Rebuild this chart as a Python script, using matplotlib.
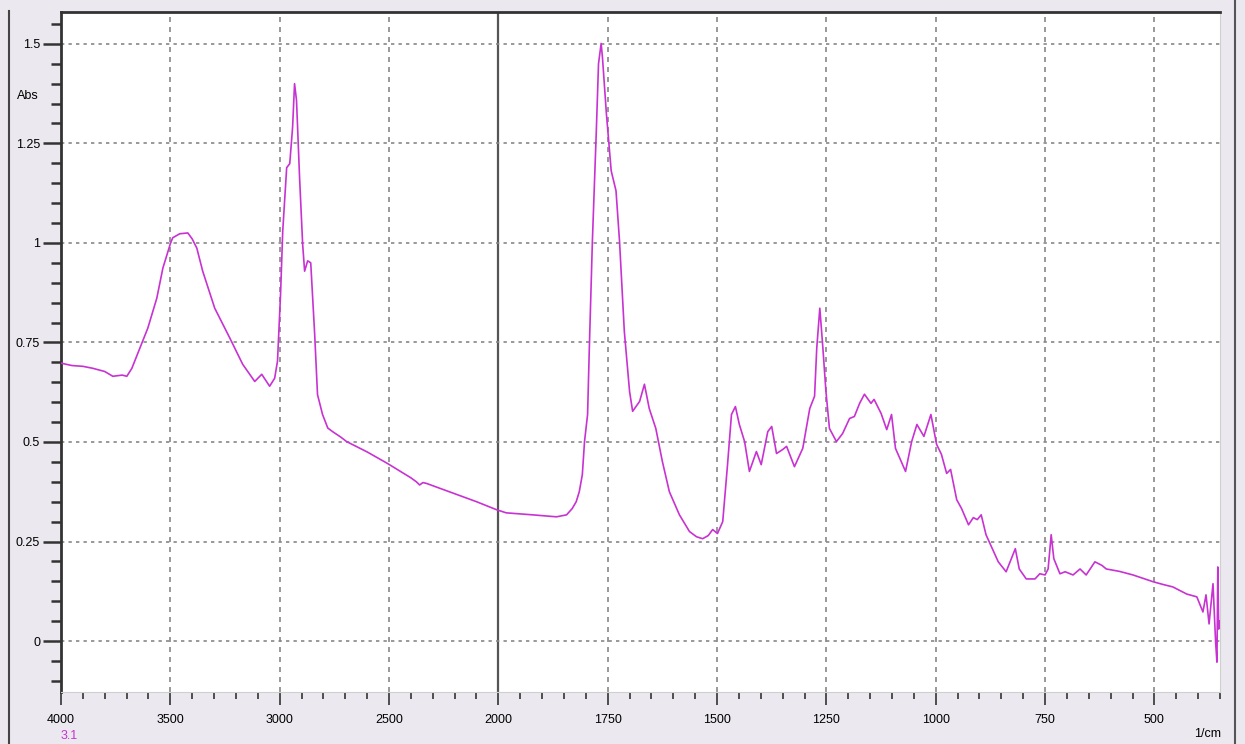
import numpy as np
import matplotlib
matplotlib.use("Agg")
import matplotlib.pyplot as plt
from matplotlib.lines import Line2D
from matplotlib import font_manager

# spectrum (wavenumber in 1/cm, absorbance)
wavenumber = [4000, 3950, 3900, 3854, 3800, 3763, 3720, 3699, 3676, 3639, 3603, 3562,
              3534, 3500, 3489, 3457, 3420, 3400, 3379, 3352, 3297, 3228, 3169, 3114,
              3082, 3046, 3023, 3010, 2996, 2986, 2968, 2954, 2941, 2932, 2923, 2909,
              2895, 2886, 2872, 2858, 2840, 2827, 2804, 2780, 2758, 2720, 2694, 2600,
              2507, 2400, 2375, 2360, 2345, 2329, 2224, 2100, 2009, 1982, 1922, 1867,
              1844, 1831, 1822, 1815, 1808, 1803, 1796, 1792, 1785, 1776, 1771, 1765,
              1762, 1753, 1742, 1731, 1723, 1712, 1700, 1693, 1677, 1666, 1655, 1640,
              1625, 1609, 1586, 1563, 1547, 1533, 1520, 1510, 1499, 1487, 1476, 1467,
              1458, 1449, 1437, 1426, 1410, 1399, 1384, 1375, 1364, 1350, 1341, 1323,
              1304, 1288, 1277, 1272, 1265, 1258, 1251, 1243, 1227, 1213, 1197, 1186,
              1174, 1163, 1148, 1141, 1125, 1112, 1101, 1092, 1069, 1055, 1043, 1027,
              1011, 998, 987, 975, 966, 952, 941, 925, 914, 905, 896, 885, 857, 839,
              827, 818, 809, 793, 773, 762, 750, 743, 736, 730, 716, 704, 686, 670,
              656, 636, 620, 610, 580, 549, 503, 480, 458, 426, 403, 389, 382, 375,
              366, 360, 357, 355, 353, 350]
absorbance = [0.698, 0.692, 0.690, 0.685, 0.677, 0.665, 0.668, 0.665, 0.685, 0.736, 0.786, 0.861,
              0.937, 0.998, 1.013, 1.023, 1.025, 1.010, 0.987, 0.929, 0.836, 0.761, 0.695, 0.652,
              0.670, 0.640, 0.660, 0.703, 0.871, 1.030, 1.189, 1.199, 1.290, 1.400, 1.358, 1.164,
              0.997, 0.929, 0.955, 0.950, 0.771, 0.619, 0.569, 0.535, 0.526, 0.512, 0.501, 0.475,
              0.446, 0.410, 0.400, 0.392, 0.398, 0.396, 0.375, 0.350, 0.330, 0.322, 0.317, 0.312,
              0.317, 0.333, 0.350, 0.375, 0.418, 0.501, 0.569, 0.736, 1.005, 1.282, 1.450, 1.501,
              1.466, 1.325, 1.181, 1.131, 1.005, 0.778, 0.627, 0.577, 0.602, 0.645, 0.584, 0.534,
              0.451, 0.375, 0.317, 0.275, 0.262, 0.257, 0.265, 0.280, 0.270, 0.300, 0.443, 0.569,
              0.589, 0.544, 0.501, 0.426, 0.476, 0.443, 0.526, 0.539, 0.471, 0.481, 0.489, 0.438,
              0.484, 0.584, 0.615, 0.736, 0.836, 0.736, 0.627, 0.534, 0.501, 0.521, 0.559, 0.564,
              0.597, 0.620, 0.597, 0.607, 0.572, 0.531, 0.569, 0.484, 0.426, 0.501, 0.544, 0.514,
              0.569, 0.494, 0.469, 0.421, 0.431, 0.355, 0.333, 0.292, 0.310, 0.305, 0.317, 0.267,
              0.199, 0.174, 0.207, 0.232, 0.181, 0.156, 0.156, 0.169, 0.166, 0.181, 0.267, 0.207,
              0.169, 0.174, 0.166, 0.181, 0.166, 0.199, 0.190, 0.181, 0.175, 0.166, 0.149, 0.142,
              0.136, 0.118, 0.111, 0.073, 0.116, 0.043, 0.144, -0.003, -0.053, 0.186, 0.030, 0.050]

x_major = [4000, 3500, 3000, 2500, 2000, 1750, 1500, 1250, 1000, 750, 500]
y_major = [0, 0.25, 0.5, 0.75, 1, 1.25, 1.5]
y_labels = ["0", "0.25", "0.5", "0.75", "1", "1.25", "1.5"]

LINE = "#c832d2"
BG = "#ebe9ef"


# above 2000 1/cm the axis is compressed by a factor of 2
def fwd(w):
    w = np.asarray(w, float)
    return np.where(w > 2000, 2000 + (w - 2000) / 2, w)


def inv(u):
    u = np.asarray(u, float)
    return np.where(u > 2000, 2000 + (u - 2000) * 2, u)


# narrow font if one is installed
names = {f.name for f in font_manager.fontManager.ttflist}
narrow = "Liberation Sans Narrow" if "Liberation Sans Narrow" in names else "Liberation Sans"
plt.rcParams["font.family"] = [narrow, "DejaVu Sans"]
plt.rcParams["font.stretch"] = "condensed"

fig = plt.figure(figsize=(12.45, 7.44), dpi=100, facecolor=BG)
ax = fig.add_axes([61 / 1245, 1 - 692 / 744, (1220 - 61) / 1245, (692 - 12) / 744])
ax.set_facecolor("white")
ax.set_xscale("function", functions=(fwd, inv))
ax.set_xlim(4000, 350)
ax.set_ylim(-0.128, 1.58)

# grid
for xv in x_major[1:]:
    if xv == 2000:
        ax.axvline(xv, color="#555555", lw=1.6, zorder=1)
    else:
        ax.axvline(xv, color="#888888", lw=1.2, ls=(0, (3, 3)), zorder=1)
for yv in y_major:
    ax.axhline(yv, color="#888888", lw=1.2, ls=(0, (2, 2.5)), zorder=1)

ax.plot(wavenumber, absorbance, color=LINE, lw=1.2, zorder=3)

# ticks
ax.set_xticks(x_major)
ax.set_xticklabels([str(v) for v in x_major])
x_minor = [v for v in list(range(3900, 2000, -100)) + list(range(1950, 349, -50)) if v not in x_major]
ax.set_xticks(x_minor, minor=True)
ax.set_yticks(y_major)
ax.set_yticklabels(y_labels)
ax.set_yticks([round(v, 2) for v in np.arange(-0.1, 1.56, 0.05)], minor=True)

ax.tick_params(axis="y", which="major", length=13, width=1.8, color="#333333",
               labelsize=9, pad=2)
ax.tick_params(axis="y", which="minor", length=7, width=1.8, color="#333333")
ax.tick_params(axis="x", which="major", length=9, width=1.2, color="#333333",
               labelsize=9, pad=7)
ax.tick_params(axis="x", which="minor", length=5, width=1.2, color="#333333")

ax.spines["left"].set_color("#333333")
ax.spines["left"].set_linewidth(2)
ax.spines["top"].set_color("#333333")
ax.spines["top"].set_linewidth(2)
ax.spines["bottom"].set_color("#cfcfcf")
ax.spines["right"].set_color("#cfcfcf")

# labels
fig.text(28 / 1245, 1 - 96 / 744, "Abs", fontsize=9, ha="center", va="center")
fig.text(1208 / 1245, 1 - 734 / 744, "1/cm", fontsize=9, ha="center", va="center")
fig.text(69 / 1245, 1 - 736 / 744, "3.1", fontsize=9, ha="center", va="center", color=LINE)

# window frame lines
fig.add_artist(Line2D([9 / 1245, 9 / 1245], [0, 1 - 11 / 744], color="#444444", lw=1.5))
fig.add_artist(Line2D([1235 / 1245, 1235 / 1245], [0, 1], color="#555555", lw=1.5))

fig.savefig("out.png", dpi=100, facecolor=BG)
